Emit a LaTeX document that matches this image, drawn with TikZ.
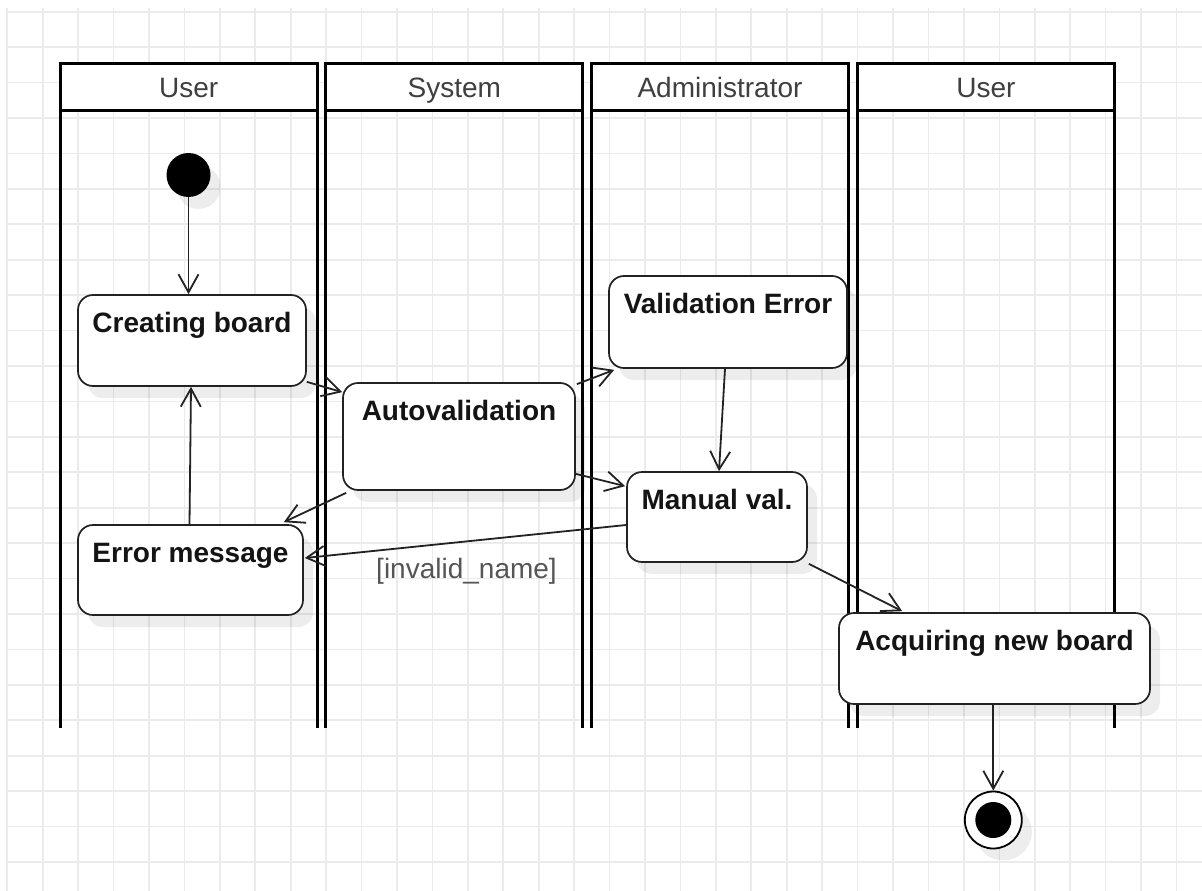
\documentclass[tikz,border=0pt]{standalone}
\usepackage{fontspec}
\setmainfont{Liberation Sans}
\usetikzlibrary{arrows.meta,calc,shadows}

\definecolor{gridline}{HTML}{EBEBEB}
\definecolor{headtext}{HTML}{3F3F3F}
\definecolor{guardtext}{HTML}{555555}
\definecolor{strokecol}{HTML}{222222}

\begin{document}
\begin{tikzpicture}[x=1pt,y=-1pt,
  gridstroke/.style={draw=gridline, line width=1.7},
  laneline/.style={draw=black, line width=3},
  lanehead/.style={fill=white, inner sep=0, minimum width=256.5,
    text height=33, text depth=13,
    text=headtext, font=\fontsize{28}{32}\selectfont},
  soft/.style={drop shadow={shadow xshift=10pt, shadow yshift=-12pt, fill=black, opacity=0.07}},
  act/.style={draw=strokecol, line width=1.7, rounded corners=15, fill=white, soft,
    inner sep=0, text height=37, text=black!92,
    font=\bfseries\fontsize{28}{32}\selectfont},
  arr/.style={draw=strokecol, line width=1.8,
    -{Straight Barb[length=18, width=20, line width=1.8]}},
  guard/.style={text=guardtext, font=\fontsize{28}{32}\selectfont, inner sep=0}
]
\useasboundingbox (0,0) rectangle (1202,891);
\fill[white] (0,0) rectangle (1202,891);

% background grid
\begin{scope}
  \clip (6,8) rectangle (1202,891);
  \foreach \i in {0,...,33}
    \draw[gridstroke] ({7.3+35.43*\i},8) -- ({7.3+35.43*\i},891);
  \foreach \j in {0,...,25}
    \draw[gridstroke] (6,{11.7+35.43*\j}) -- (1202,{11.7+35.43*\j});
\end{scope}

% swimlanes
\foreach \cx/\name/\txt in {188.75/h1/User, 454.25/h2/System, 720.0/h3/Administrator, 986.0/h4/User}{
  \node[lanehead] (\name) at (\cx,87) {\txt};
  \draw[laneline] (\name.south west) -- ++(0,618);
  \draw[laneline] (\name.south east) -- ++(0,618);
  \draw[laneline] (\name.south west) -- (\name.north west) -- (\name.north east) -- (\name.south east) -- cycle;
}

% initial and final states
\node[circle, fill=black, minimum size=44, inner sep=0, soft] (start) at (188.5,175) {};
\node[circle, draw=black, line width=1.8, fill=white, minimum size=57, inner sep=0, soft,
  path picture={\fill[black] (path picture bounding box.center) circle (18);}] (stop) at (993.3,820) {};

% activities
\node[act, minimum width=228, text depth=54] (cb) at (192,340.5) {Creating board};
\node[act, minimum width=225, text depth=53] (em) at (190.5,570) {Error message};
\node[act, minimum width=232, text depth=70] (av) at (459,436.5) {Autovalidation};
\node[act, minimum width=238, text depth=55] (ve) at (728,322) {Validation Error};
\node[act, minimum width=180, text depth=53] (mv) at (717,517) {Manual val.};
\node[act, minimum width=311, text depth=54] (ab) at (994.5,658.5) {Acquiring new board};

% transitions
\draw[arr] (start.south) -- (start.south |- cb.north);
\draw[arr] ($(cb.south east)+(0,-5)$) -- ($(av.north west)+(0,10)$);
\draw[arr] ($(av.north east)+(1,2)$) -- ($(ve.south west)+(6,1)$);
\draw[arr] ($(ve.south)+(-3,0)$) -- ($(mv.north)+(2,0)$);
\draw[arr] ($(av.south east)+(0,-17)$) -- ($(mv.north west)+(-1,15)$);
\draw[arr] ($(av.south west)+(4,2)$) -- ($(em.north east)+(-20,-2)$);
\draw[arr] ($(mv.west)+(0,8)$) --
  node[guard, pos=0.5, anchor=base, yshift=-37pt, xshift=1pt] (g1) {[invalid\_name]}
  ($(em.east)+(1,-12)$);
\draw[arr] ($(em.north)+(-1,0)$) -- ($(cb.south)+(-1,0)$);
\draw[arr] ($(mv.south east)+(1,1)$) -- ($(ab.north west)+(64,-1)$);
\draw[arr] (ab.south -| stop) -- (stop.north);
\end{tikzpicture}
\end{document}
